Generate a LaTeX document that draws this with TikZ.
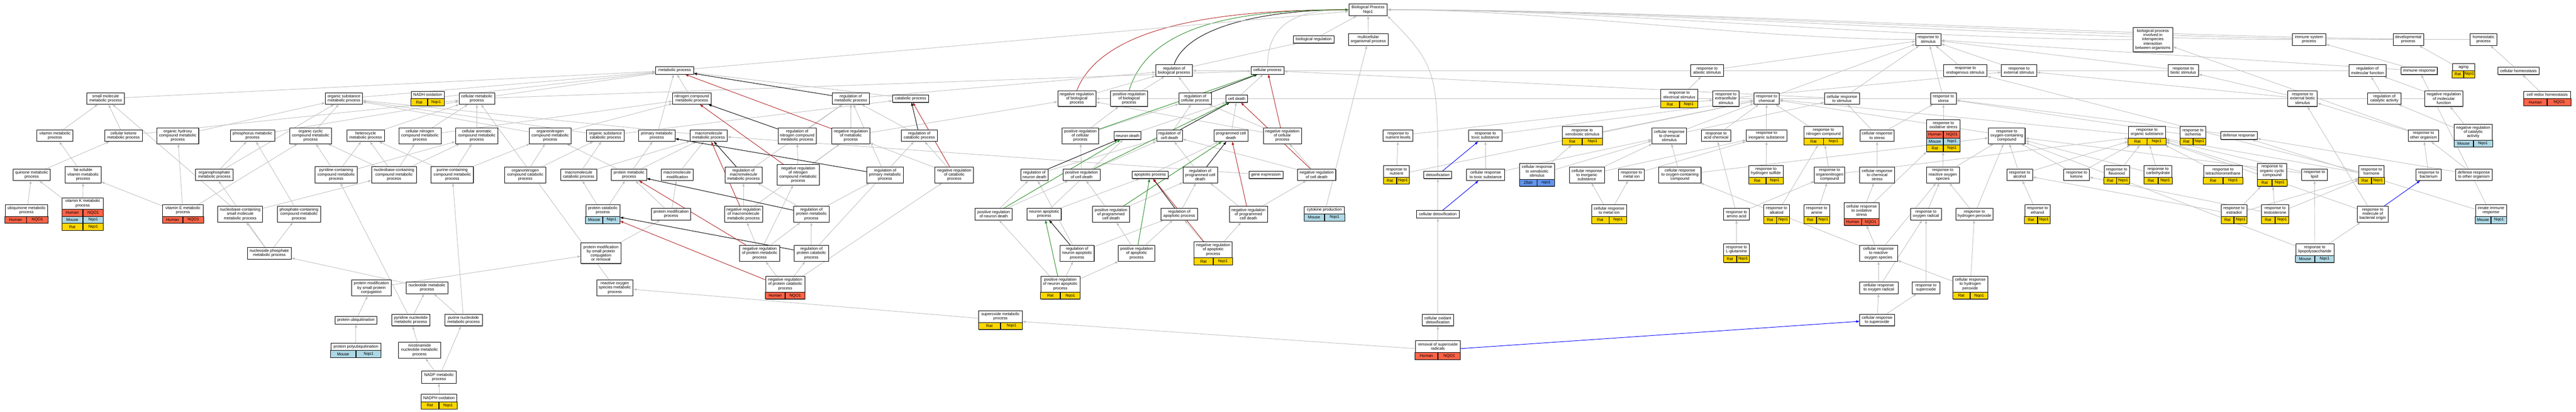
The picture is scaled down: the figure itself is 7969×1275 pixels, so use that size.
\documentclass[tikz,border=0pt]{standalone}
\usepackage{fontspec}
\setmainfont{Liberation Sans}
\usetikzlibrary{arrows.meta,backgrounds,shadows}
\definecolor{edgegray}{HTML}{C0C0C0}
\definecolor{hum}{HTML}{FF6347}
\definecolor{mou}{HTML}{ADD8E6}
\definecolor{rat}{HTML}{FFD700}
\definecolor{zf}{HTML}{6495ED}
\definecolor{negred}{HTML}{B22222}
\definecolor{posgreen}{HTML}{228B22}
\newcommand\gofont{\fontsize{12.5}{13.2}\selectfont}
\tikzset{
 gobox/.style={draw=black, line width=1.3pt, fill=white, inner sep=1pt, align=center, font=\gofont,
   drop shadow={shadow xshift=1pt, shadow yshift=-1.4pt, fill=black!55, opacity=1}},
 golabel/.style={inner sep=1pt, align=center, font=\gofont},
 gocell/.style={draw=black, line width=1.3pt, inner sep=0pt, font=\gofont},
 isa/.style={draw=edgegray, line width=1.5pt, -{Triangle[length=10pt,width=7pt]}},
 rgl/.style={draw=black, line width=1.5pt, -{Triangle[length=10pt,width=7pt]}},
 ngl/.style={draw=negred, line width=1.5pt, -{Triangle[length=10pt,width=7pt]}},
 pgl/.style={draw=posgreen, line width=1.5pt, -{Triangle[length=10pt,width=7pt]}},
 pof/.style={draw=blue, line width=1.5pt, -{Triangle[length=10pt,width=7pt]}}
}
% plain box: name, cx, ytop, width, height, text
\newcommand\gb[6]{\node[gobox, minimum width=#4, minimum height=#5, anchor=north] (#1) at (#2,#3) {#6};}
% annotated box: name, cx, ytop, width, total height, label height, text
\newcommand\ga[7]{\node[gobox, minimum width=#4, minimum height=#5, anchor=north] (#1) at (#2,#3) {};
 \node[golabel, minimum width=#4, minimum height=#6, anchor=north] (#1t) at (#2,#3) {#7};}
% annotation row: prefix, cx, ytop, width, height, colour, species, gene
\newcommand\gr[8]{\node[gocell, fill=#6, minimum width=#4/2, minimum height=#5, anchor=north east] (#1a) at (#2,#3) {#7};
 \node[gocell, fill=#6, minimum width=#4/2, minimum height=#5, anchor=north west] (#1b) at (#2,#3) {#8};}
\begin{document}
\begin{tikzpicture}[x=1pt,y=-1pt]
\useasboundingbox (0,0) rectangle (7969,1275);
% rank 0-1
\gb{root}{4232}{11}{119}{37}{Biological Process\\Nqo1}
\gb{bioreg}{4064}{110}{125}{23}{biological regulation}
\gb{multorg}{4233}{103}{124}{37}{multicellular\\organismal process}
\gb{respstim}{5965}{103}{78}{37}{response to\\stimulus}
\gb{interspecies}{6660}{84}{123}{76}{biological process\\involved in\\interspecies\\interaction\\between organisms}
\gb{immsys}{7143}{103}{103}{37}{immune system\\process}
\gb{devproc}{7450}{103}{94}{37}{developmental\\process}
\gb{homeo}{7683}{103}{82}{37}{homeostatic\\process}
% rank 2
\gb{metab}{2087}{206}{117}{23}{metabolic process}
\gb{regbio}{3632}{200}{114}{36}{regulation of\\biological process}
\gb{cellproc}{3921}{206}{102}{23}{cellular process}
\gb{respabio}{5281}{200}{101}{36}{response to\\abiotic stimulus}
\gb{respendo}{6080}{200}{134}{36}{response to\\endogenous stimulus}
\gb{respext}{6246}{200}{109}{36}{response to\\external stimulus}
\gb{respbiot}{6754}{200}{94}{36}{response to\\biotic stimulus}
\gb{regmolf}{7324}{200}{116}{36}{regulation of\\molecular function}
\gb{immresp}{7484}{207}{112}{23}{immune response}
\ga{aging}{7621}{196}{69}{44}{22}{aging}
\gr{agingr}{7621}{218}{69}{22}{rat}{Rat}{Nqo1}
\gb{cellhomeo}{7791}{207}{128}{23}{cellular homeostasis}
% rank 3
\gb{smallmol}{327}{287}{116}{35}{small molecule\\metabolic process}
\gb{orgsub}{1064}{287}{115}{35}{organic substance\\metabolic process}
\ga{nadhox}{1323}{282}{102}{45}{22}{NADH oxidation}
\gr{nadhoxr}{1323}{304}{102}{23}{rat}{Rat}{Nqo1}
\gb{cellmet}{1475}{287}{110}{35}{cellular metabolic\\process}
\gb{nitrocomp}{2140}{287}{119}{35}{nitrogen compound\\metabolic process}
\gb{regmet}{2632}{287}{116}{35}{regulation of\\metabolic process}
\gb{catab}{2817}{293}{112}{23}{catabolic process}
\gb{negregbio}{3331}{280}{118}{49}{negative regulation\\of biological\\process}
\gb{posregbio}{3493}{280}{114}{49}{positive regulation\\of biological\\process}
\gb{regcell}{3697}{287}{100}{35}{regulation of\\cellular process}
\gb{celldeath}{3826}{293}{66}{23}{cell death}
\ga{electr}{5195}{276}{114}{57}{36}{response to\\electrical stimulus}
\gr{electrr}{5195}{312}{114}{21}{rat}{Rat}{Nqo1}
\gb{extracell}{5339}{280}{80}{49}{response to\\extracellular\\stimulus}
\gb{chem}{5465}{287}{78}{35}{response to\\chemical}
\gb{cellstim}{5698}{287}{108}{35}{cellular response\\to stimulus}
\gb{stress}{6012}{287}{79}{35}{response to\\stress}
\gb{extbiot}{7123}{280}{91}{49}{response to\\external biotic\\stimulus}
\gb{regcat}{7376}{287}{104}{35}{regulation of\\catalytic activity}
\gb{negregmolf}{7560}{280}{119}{49}{negative regulation\\of molecular\\function}
\ga{redox}{7880}{282}{145}{45}{22}{cell redox homeostasis}
\gr{redoxr}{7880}{304}{145}{23}{hum}{Human}{NQO1}
% rank 4
\gb{vitamin}{170}{401}{111}{36}{vitamin metabolic\\process}
\gb{ketone}{382}{401}{116}{36}{cellular ketone\\metabolic process}
\gb{hydroxy}{550}{395}{130}{49}{organic hydroxy\\compound metabolic\\process}
\gb{phosph}{781}{401}{137}{36}{phosphorus metabolic\\process}
\gb{orgcyc}{961}{395}{130}{49}{organic cyclic\\compound metabolic\\process}
\gb{hetero}{1131}{401}{116}{36}{heterocycle\\metabolic process}
\gb{cellnitro}{1299}{395}{131}{49}{cellular nitrogen\\compound metabolic\\process}
\gb{cellarom}{1475}{395}{131}{49}{cellular aromatic\\compound metabolic\\process}
\gb{orgnitro}{1702}{395}{129}{49}{organonitrogen\\compound metabolic\\process}
\gb{orgsubcat}{1873}{401}{116}{36}{organic substance\\catabolic process}
\gb{primmet}{2032}{401}{113}{36}{primary metabolic\\process}
\gb{macromet}{2192}{401}{115}{36}{macromolecule\\metabolic process}
\gb{regnitro}{2466}{395}{119}{49}{regulation of\\nitrogen compound\\metabolic process}
\gb{negregmet}{2632}{395}{117}{49}{negative regulation\\of metabolic\\process}
\gb{regcatab}{2844}{401}{112}{36}{regulation of\\catabolic process}
\gb{posregcell}{3342}{395}{114}{49}{positive regulation\\of cellular\\process}
\gb{neurondeath}{3488}{407}{84}{24}{neuron death}
\gb{regcelldeath}{3618}{401}{80}{36}{regulation of\\cell death}
\gb{pcd}{3808}{401}{106}{36}{programmed cell\\death}
\gb{negregcell}{3967}{395}{118}{49}{negative regulation\\of cellular\\process}
\gb{nutlev}{4325}{401}{92}{36}{response to\\nutrient levels}
\gb{toxic}{4595}{401}{103}{36}{response to\\toxic substance}
\ga{xeno}{4895}{391}{124}{57}{36}{response to\\xenobiotic stimulus}
\gr{xenor}{4895}{427}{124}{21}{rat}{Rat}{Nqo1}
\gb{cellchem}{5164}{395}{107}{49}{cellular response\\to chemical\\stimulus}
\gb{acid}{5309}{401}{91}{36}{response to\\acid chemical}
\gb{inorg}{5465}{401}{126}{36}{response to\\inorganic substance}
\ga{nitrogen}{5641}{391}{121}{57}{36}{response to\\nitrogen compound}
\gr{nitrogenr}{5641}{427}{121}{21}{rat}{Rat}{Nqo1}
\gb{cellstress}{5807}{401}{106}{36}{cellular response\\to stress}
\ga{oxstress}{6012}{369}{103}{100}{36}{response to\\oxidative stress}
\gr{oxstressh}{6012}{405}{103}{21.5}{hum}{Human}{NQO1}
\gr{oxstressm}{6012}{426.5}{103}{21.5}{mou}{Mouse}{Nqo1}
\gr{oxstressr}{6012}{448}{103}{21}{rat}{Rat}{Nqo1}
\gb{oxygen}{6208}{395}{114}{49}{response to\\oxygen-containing\\compound}
\ga{orgsubst}{6642}{391}{116}{57}{36}{response to\\organic substance}
\gr{orgsubstr}{6642}{427}{116}{21}{rat}{Rat}{Nqo1}
\ga{ischemia}{6784}{391}{79}{57}{36}{response to\\ischemia}
\gr{ischemiar}{6784}{427}{79}{21}{rat}{Rat}{Nqo1}
\gb{defense}{6926}{407}{113}{24}{defense response}
\gb{othorg}{7497}{401}{95}{36}{response to\\other organism}
\ga{negregcat}{7651}{384}{118}{70}{49}{negative regulation\\of catalytic\\activity}
\gr{negregcatm}{7651}{433}{118}{21}{mou}{Mouse}{Nqo1}
% rank 5
\gb{quinone}{98}{523}{114}{35}{quinone metabolic\\process}
\gb{fatsol}{257}{515}{112}{50}{fat-soluble\\vitamin metabolic\\process}
\gb{orgphos}{663}{523}{116}{35}{organophosphate\\metabolic process}
\gb{pyrcont}{1040}{515}{130}{50}{pyridine-containing\\compound metabolic\\process}
\gb{nbcont}{1219}{515}{139}{50}{nucleobase-containing\\compound metabolic\\process}
\gb{purcont}{1399}{515}{131}{50}{purine-containing\\compound metabolic\\process}
\gb{orgnitrocat}{1625}{516}{127}{49}{organonitrogen\\compound catabolic\\process}
\gb{macrocat}{1790}{522}{111}{36}{macromolecule\\catabolic process}
\gb{protmet}{1946}{522}{109}{36}{protein metabolic\\process}
\gb{macromod}{2095}{522}{99}{36}{macromolecule\\modification}
\gb{regmacro}{2300}{516}{115}{49}{regulation of\\macromolecule\\metabolic process}
\gb{negregnitro}{2469}{509}{130}{63}{negative regulation\\of nitrogen\\compound metabolic\\process}
\gb{regprim}{2738}{516}{113}{49}{regulation of\\primary metabolic\\process}
\gb{negregcatab}{2952}{516}{119}{49}{negative regulation\\of catabolic\\process}
\gb{regneurdeath}{3200}{522}{85}{36}{regulation of\\neuron death}
\gb{posregcd}{3346}{522}{115}{36}{positive regulation\\of cell death}
\gb{apopt}{3558}{529}{112}{23}{apoptotic process}
\gb{regpcd}{3713}{516}{106}{49}{regulation of\\programmed cell\\death}
\gb{geneexp}{3916}{529}{105}{23}{gene expression}
\gb{negregcd}{4073}{522}{119}{36}{negative regulation\\of cell death}
\ga{nutrient}{4320}{512}{79}{57}{36}{response to\\nutrient}
\gr{nutrientr}{4320}{548}{79}{21}{rat}{Rat}{Nqo1}
\gb{detox}{4448}{529}{86}{23}{detoxification}
\gb{celltoxic}{4596}{522}{118}{36}{cellular response\\to toxic substance}
\ga{cellxeno}{4755}{505}{108}{71}{49}{cellular response\\to xenobiotic\\stimulus}
\gr{cellxenoz}{4755}{554}{108}{22}{zf}{Zfish}{nqo1}
\gb{cellinorg}{4909}{516}{108}{49}{cellular response\\to inorganic\\substance}
\gb{metalion}{5047}{522}{79}{36}{response to\\metal ion}
\gb{celloxy}{5197}{516}{131}{49}{cellular response\\to oxygen-containing\\compound}
\ga{h2s}{5463}{512}{106}{57}{36}{response to\\hydrogen sulfide}
\gr{h2sr}{5463}{548}{106}{21}{rat}{Rat}{Nqo1}
\gb{orgnitrocomp}{5660}{516}{94}{49}{response to\\organonitrogen\\compound}
\gb{cellchemstress}{5807}{516}{108}{49}{cellular response\\to chemical\\stress}
\gb{ros}{6010}{516}{102}{49}{response to\\reactive oxygen\\species}
\gb{alcohol}{6248}{522}{79}{36}{response to\\alcohol}
\gb{ketoneresp}{6424}{522}{79}{36}{response to\\ketone}
\ga{flavonoid}{6548}{512}{78}{57}{36}{response to\\flavonoid}
\gr{flavonoidr}{6548}{548}{78}{21}{rat}{Rat}{Nqo1}
\ga{carb}{6676}{512}{86}{57}{36}{response to\\carbohydrate}
\gr{carbr}{6676}{548}{86}{21}{rat}{Rat}{Nqo1}
\ga{tetra}{6877}{512}{121}{57}{36}{response to\\tetrachloromethane}
\gr{tetrar}{6877}{548}{121}{21}{rat}{Rat}{Nqo1}
\ga{orgcycresp}{7029}{505}{91}{71}{49}{response to\\organic cyclic\\compound}
\gr{orgcycrespr}{7029}{554}{91}{22}{rat}{Rat}{Nqo1}
\gb{lipid}{7160}{522}{79}{36}{response to\\lipid}
\ga{hormone}{7336}{512}{79}{57}{36}{response to\\hormone}
\gr{hormoner}{7336}{548}{79}{21}{rat}{Rat}{Nqo1}
\gb{bacterium}{7513}{522}{78}{36}{response to\\bacterium}
\gb{defother}{7653}{522}{113}{36}{defense response\\to other organism}
% rank 6
\ga{ubiq}{82}{633}{132}{57}{36}{ubiquinone metabolic\\process}
\gr{ubiqh}{82}{669}{132}{21}{hum}{Human}{NQO1}
\ga{vitk}{256}{612}{127}{100}{35}{vitamin K metabolic\\process}
\gr{vitkh}{256}{647}{127}{21.7}{hum}{Human}{NQO1}
\gr{vitkm}{256}{668.7}{127}{21.7}{mou}{Mouse}{Nqo1}
\gr{vitkr}{256}{690.4}{127}{21.6}{rat}{Rat}{Nqo1}
\ga{vite}{566}{633}{126}{57}{36}{vitamin E metabolic\\process}
\gr{viteh}{566}{669}{126}{21}{hum}{Human}{NQO1}
\gb{nbsmall}{743}{637}{139}{50}{nucleobase-containing\\small molecule\\metabolic process}
\gb{phoscont}{925}{637}{133}{50}{phosphate-containing\\compound metabolic\\process}
\ga{protcat}{1865}{633}{105}{58}{36}{protein catabolic\\process}
\gr{protcatm}{1865}{669}{105}{22}{mou}{Mouse}{Nqo1}
\gb{protmod}{2076}{644}{122}{36}{protein modification\\process}
\gb{negregmacro}{2300}{637}{118}{50}{negative regulation\\of macromolecule\\metabolic process}
\gb{regprot}{2510}{637}{110}{50}{regulation of\\protein metabolic\\process}
\gb{posregnd}{3074}{644}{115}{36}{positive regulation\\of neuron death}
\gb{neurapop}{3230}{644}{106}{36}{neuron apoptotic\\process}
\gb{posregpcd}{3437}{637}{115}{50}{positive regulation\\of programmed\\cell death}
\gb{regapop}{3648}{644}{113}{36}{regulation of\\apoptotic process}
\gb{negregpcd}{3862}{637}{118}{50}{negative regulation\\of programmed\\cell death}
\ga{cytokine}{4097}{639}{124}{44}{22}{cytokine production}
\gr{cytokinem}{4097}{661}{124}{22}{mou}{Mouse}{Nqo1}
\gb{celldetox}{4448}{651}{131}{23}{cellular detoxification}
\ga{cellmetal}{4978}{633}{108}{58}{36}{cellular response\\to metal ion}
\gr{cellmetalr}{4978}{669}{108}{22}{rat}{Rat}{Nqo1}
\gb{aminoacid}{5372}{644}{79}{36}{response to\\amino acid}
\ga{alkaloid}{5496}{633}{79}{58}{36}{response to\\alkaloid}
\gr{alkaloidr}{5496}{669}{79}{22}{rat}{Rat}{Nqo1}
\ga{amine}{5620}{633}{79}{58}{36}{response to\\amine}
\gr{aminer}{5620}{669}{79}{22}{rat}{Rat}{Nqo1}
\ga{celloxstress}{5759}{627}{108}{70}{49}{cellular response\\to oxidative\\stress}
\gr{celloxstressh}{5759}{676}{108}{21}{hum}{Human}{NQO1}
\gb{oxrad}{5958}{644}{95}{36}{response to\\oxygen radical}
\gb{h2o2}{6108}{644}{115}{36}{response to\\hydrogen peroxide}
\ga{ethanol}{6303}{633}{78}{58}{36}{response to\\ethanol}
\gr{ethanolr}{6303}{669}{78}{22}{rat}{Rat}{Nqo1}
\ga{estradiol}{6911}{633}{79}{58}{36}{response to\\estradiol}
\gr{estradiolr}{6911}{669}{79}{22}{rat}{Rat}{Nqo1}
\ga{testost}{7038}{633}{84}{58}{36}{response to\\testosterone}
\gr{testostr}{7038}{669}{84}{22}{rat}{Rat}{Nqo1}
\gb{molbact}{7340}{637}{95}{50}{response to\\molecule of\\bacterial origin}
\ga{innate}{7706}{633}{96}{58}{36}{innate immune\\response}
\gr{innatem}{7706}{669}{96}{22}{mou}{Mouse}{Nqo1}
% rank 7
\gb{nucphos}{833}{765}{136}{36}{nucleoside phosphate\\metabolic process}
\gb{pmscr}{1859}{751}{123}{64}{protein modification\\by small protein\\conjugation\\or removal}
\gb{negregprot}{2350}{758}{124}{50}{negative regulation\\of protein metabolic\\process}
\gb{regprotcat}{2510}{758}{106}{50}{regulation of\\protein catabolic\\process}
\gb{regneurapop}{3332}{758}{106}{50}{regulation of\\neuron apoptotic\\process}
\gb{posregapop}{3516}{758}{114}{50}{positive regulation\\of apoptotic\\process}
\ga{negregapop}{3753}{748}{118}{71}{49}{negative regulation\\of apoptotic\\process}
\gr{negregapopr}{3753}{797}{118}{22}{rat}{Rat}{Nqo1}
\ga{lglut}{5372}{754}{79}{58}{36}{response to\\L-glutamine}
\gr{lglutr}{5372}{790}{79}{22}{rat}{Rat}{Nqo1}
\gb{cellros}{5811}{758}{118}{50}{cellular response\\to reactive\\oxygen species}
\ga{lps}{7161}{754}{118}{58}{36}{response to\\lipopolysaccharide}
\gr{lpsm}{7161}{790}{118}{22}{mou}{Mouse}{Nqo1}
% rank 8
\gb{pmsc}{1149}{866}{122}{49}{protein modification\\by small protein\\conjugation}
\gb{nucleotide}{1321}{872}{129}{36}{nucleotide metabolic\\process}
\gb{rosmet}{1902}{865}{113}{50}{reactive oxygen\\species metabolic\\process}
\ga{negregprotcat}{2429}{855}{121}{70}{49}{negative regulation\\of protein catabolic\\process}
\gr{negregprotcath}{2429}{904}{121}{21}{hum}{Human}{NQO1}
\ga{posregneurapop}{3280}{855}{121}{70}{49}{positive regulation\\of neuron apoptotic\\process}
\gr{posregneurapopr}{3280}{904}{121}{21}{rat}{Rat}{Nqo1}
\gb{celloxrad}{5812}{871}{119}{37}{cellular response\\to oxygen radical}
\gb{superox}{5958}{871}{86}{37}{response to\\superoxide}
\ga{cellh2o2}{6095}{855}{108}{70}{49}{cellular response\\to hydrogen\\peroxide}
\gr{cellh2o2r}{6095}{904}{108}{21}{rat}{Rat}{Nqo1}
% rank 9-12
\gb{protubiq}{1101}{978}{129}{24}{protein ubiquitination}
\gb{pyrnuc}{1271}{972}{117}{36}{pyridine nucleotide\\metabolic process}
\gb{purnuc}{1434}{972}{116}{36}{purine nucleotide\\metabolic process}
\ga{superoxmet}{3095}{961}{135}{58}{36}{superoxide metabolic\\process}
\gr{superoxmetr}{3095}{997}{135}{22}{rat}{Rat}{Nqo1}
\gb{celloxdetox}{4448}{972}{97}{36}{cellular oxidant\\detoxification}
\gb{cellsuperox}{5807}{972}{108}{36}{cellular response\\to superoxide}
\ga{polyubiq}{1101}{1061}{155}{45}{23}{protein polyubiquitination}
\gr{polyubiqm}{1101}{1084}{155}{22}{mou}{Mouse}{Nqo1}
\gb{nicotin}{1298}{1058}{130}{50}{nicotinamide\\nucleotide metabolic\\process}
\ga{removal}{4448}{1054}{139}{58}{36}{removal of superoxide\\radicals}
\gr{removalh}{4448}{1090}{139}{22}{hum}{Human}{NQO1}
\gb{nadpmet}{1358}{1148}{107}{37}{NADP metabolic\\process}
\ga{nadphox}{1358}{1220}{110}{45}{23}{NADPH oxidation}
\gr{nadphoxr}{1358}{1243}{110}{22}{rat}{Rat}{Nqo1}
% edges
\begin{scope}[on background layer]
% edges into the root that run along the top
\foreach \a/\d in {respstim/500, interspecies/700, immsys/800, devproc/900, homeo/1000}
 \draw[isa] (\a.west) .. controls +(-\d,0) and +(\d,0) .. (root.east);
\draw[isa] (detox.north) .. controls +(0,-300) and +(150,150) .. (root.south east);
\draw[isa] (cellproc.north) .. controls +(0,-120) and +(-180,0) .. (root.west);
\draw[rgl] (regbio.north) .. controls +(40,-120) and +(-250,0) .. (root.west);
\draw[ngl] (negregbio.north) .. controls +(80,-200) and +(-400,0) .. (root.west);
\draw[pgl] (posregbio.north) .. controls +(60,-200) and +(-350,0) .. (root.west);
\foreach \a/\b in {bioreg/root, multorg/root, metab/root,
 regbio/bioreg, respabio/respstim, respendo/respstim, respext/respstim, respbiot/respstim, regmolf/regbio, immresp/immsys, immresp/respstim, aging/devproc, cellhomeo/homeo,
 smallmol/metab, orgsub/metab, nadhox/metab, cellmet/metab, cellmet/cellproc, nitrocomp/metab, regmet/regbio, catab/metab, negregbio/regbio, posregbio/regbio, regcell/regbio, celldeath/cellproc, electr/respabio, extracell/respext, chem/respstim, cellstim/respstim, cellstim/cellproc, stress/respstim, extbiot/respbiot, extbiot/respext, regcat/regmolf, negregmolf/regmolf, negregmolf/negregbio, redox/cellhomeo,
 vitamin/smallmol, ketone/smallmol, ketone/cellmet, hydroxy/orgsub, phosph/cellmet, orgcyc/orgsub, hetero/cellmet, cellnitro/nitrocomp, cellnitro/cellmet, cellarom/cellmet, orgnitro/orgsub, orgnitro/nitrocomp, orgsubcat/orgsub, orgsubcat/catab, primmet/metab, macromet/orgsub, regnitro/regmet, negregmet/regmet, negregmet/negregbio, regcatab/regmet, posregcell/regcell, posregcell/posregbio, neurondeath/celldeath, regcelldeath/regcell, pcd/celldeath, negregcell/regcell, negregcell/negregbio, nutlev/extracell, toxic/chem, xeno/chem, cellchem/chem, cellchem/cellstim, acid/chem, inorg/chem, nitrogen/chem, cellstress/cellstim, cellstress/stress, oxstress/stress, oxygen/chem, orgsubst/chem, ischemia/stress, defense/stress, othorg/extbiot, othorg/interspecies, negregcat/regcat, negregcat/negregmolf,
 quinone/ketone, fatsol/vitamin, orgphos/phosph, orgphos/orgsub, pyrcont/orgcyc, pyrcont/hetero, pyrcont/cellarom, nbcont/orgcyc, nbcont/hetero, nbcont/cellnitro, nbcont/cellarom, purcont/hetero, purcont/cellarom, purcont/orgnitro, orgnitrocat/orgnitro, orgnitrocat/orgsubcat, macrocat/macromet, macrocat/orgsubcat, protmet/macromet, protmet/orgnitro, protmet/primmet, macromod/macromet, regmacro/regmet, negregnitro/regnitro, negregnitro/negregmet, regprim/regmet, negregcatab/regcatab, negregcatab/negregmet, regneurdeath/regcelldeath, posregcd/regcelldeath, posregcd/posregcell, apopt/pcd, regpcd/regcelldeath, geneexp/macromet, negregcd/regcelldeath, negregcd/negregcell, nutrient/nutlev, nutrient/chem, celltoxic/toxic, celltoxic/cellchem, cellxeno/xeno, cellxeno/cellchem, cellinorg/inorg, cellinorg/cellchem, metalion/inorg, celloxy/oxygen, celloxy/cellchem, h2s/inorg, orgnitrocomp/nitrogen, orgnitrocomp/orgsubst, cellchemstress/cellstress, ros/oxygen, ros/oxstress, alcohol/oxygen, alcohol/orgsubst, ketoneresp/oxygen, ketoneresp/orgsubst, flavonoid/orgsubst, carb/oxygen, carb/orgsubst, tetra/orgsubst, orgcycresp/orgsubst, lipid/orgsubst, lipid/oxygen, hormone/respendo, hormone/orgsubst, bacterium/othorg, defother/othorg, defother/defense,
 ubiq/quinone, vitk/quinone, vitk/fatsol, vite/fatsol, vite/hydroxy, vite/orgcyc, nbsmall/smallmol, nbsmall/nbcont, phoscont/phosph, protcat/macrocat, protcat/protmet, protmod/macromod, protmod/protmet, negregmacro/regmacro, negregmacro/negregmet, regprot/regmacro, regprot/regprim, posregnd/regneurdeath, posregnd/posregcd, neurapop/apopt, neurapop/neurondeath, posregpcd/regpcd, posregpcd/posregcd, regapop/regpcd, negregpcd/regpcd, negregpcd/negregcd, cytokine/multorg, celldetox/detox, cellmetal/metalion, cellmetal/cellinorg, aminoacid/acid, aminoacid/orgnitrocomp, alkaloid/nitrogen, amine/orgnitrocomp, celloxstress/oxstress, celloxstress/cellchemstress, oxrad/ros, h2o2/ros, h2o2/oxygen, ethanol/alcohol, estradiol/alcohol, estradiol/orgcycresp, estradiol/hormone, testost/ketoneresp, testost/orgcycresp, testost/hormone, molbact/extbiot, molbact/orgsubst, innate/immresp, innate/defense,
 nucphos/nbsmall, nucphos/phoscont, nucphos/orgphos, pmscr/protmod, negregprot/regprot, negregprot/negregmacro, negregprot/negregnitro, regprotcat/regprot, regprotcat/regcatab, regneurapop/regapop, regneurapop/regneurdeath, posregapop/regapop, posregapop/posregpcd, negregapop/regapop, negregapop/negregpcd, lglut/aminoacid, cellros/ros, cellros/celloxstress, cellros/celloxy, lps/molbact, lps/lipid, lps/oxygen,
 pmsc/pmscr, nucleotide/nucphos, rosmet/cellmet, negregprotcat/regprotcat, negregprotcat/negregprot, negregprotcat/negregcatab, posregneurapop/regneurapop, posregneurapop/posregapop, posregneurapop/posregnd, celloxrad/cellros, celloxrad/oxrad, superox/oxrad, cellh2o2/h2o2, cellh2o2/cellros,
 protubiq/pmsc, pyrnuc/nucleotide, pyrnuc/pyrcont, purnuc/nucleotide, purnuc/purcont, superoxmet/rosmet, celloxdetox/celldetox, cellsuperox/celloxrad, cellsuperox/superox, polyubiq/protubiq, nicotin/pyrnuc, removal/celloxdetox, removal/superoxmet, nadpmet/nicotin, nadpmet/purnuc, nadphox/nadpmet}
 \draw[isa] (\a) -- (\b);
\foreach \a/\b in {regmet/metab, regnitro/nitrocomp, regmacro/macromet, regprim/primmet, regcatab/catab, regprot/protmet, regprotcat/protcat, regcell/cellproc, regcelldeath/celldeath, regneurdeath/neurondeath, regpcd/pcd, regapop/apopt, regneurapop/neurapop}
 \draw[rgl] (\a) -- (\b);
\foreach \a/\b in {negregmet/metab, negregnitro/nitrocomp, negregmacro/macromet, negregprot/protmet, negregprotcat/protcat, negregcatab/catab, negregcell/cellproc, negregcd/celldeath, negregpcd/pcd, negregapop/apopt}
 \draw[ngl] (\a) -- (\b);
\foreach \a/\b in {posregcell/cellproc, posregcd/celldeath, posregnd/neurondeath, posregpcd/pcd, posregapop/apopt, posregneurapop/neurapop}
 \draw[pgl] (\a) -- (\b);
\foreach \a/\b in {detox/toxic, celldetox/celltoxic, removal/cellsuperox, molbact/bacterium}
 \draw[pof] (\a) -- (\b);
\end{scope}
\end{tikzpicture}
\end{document}
